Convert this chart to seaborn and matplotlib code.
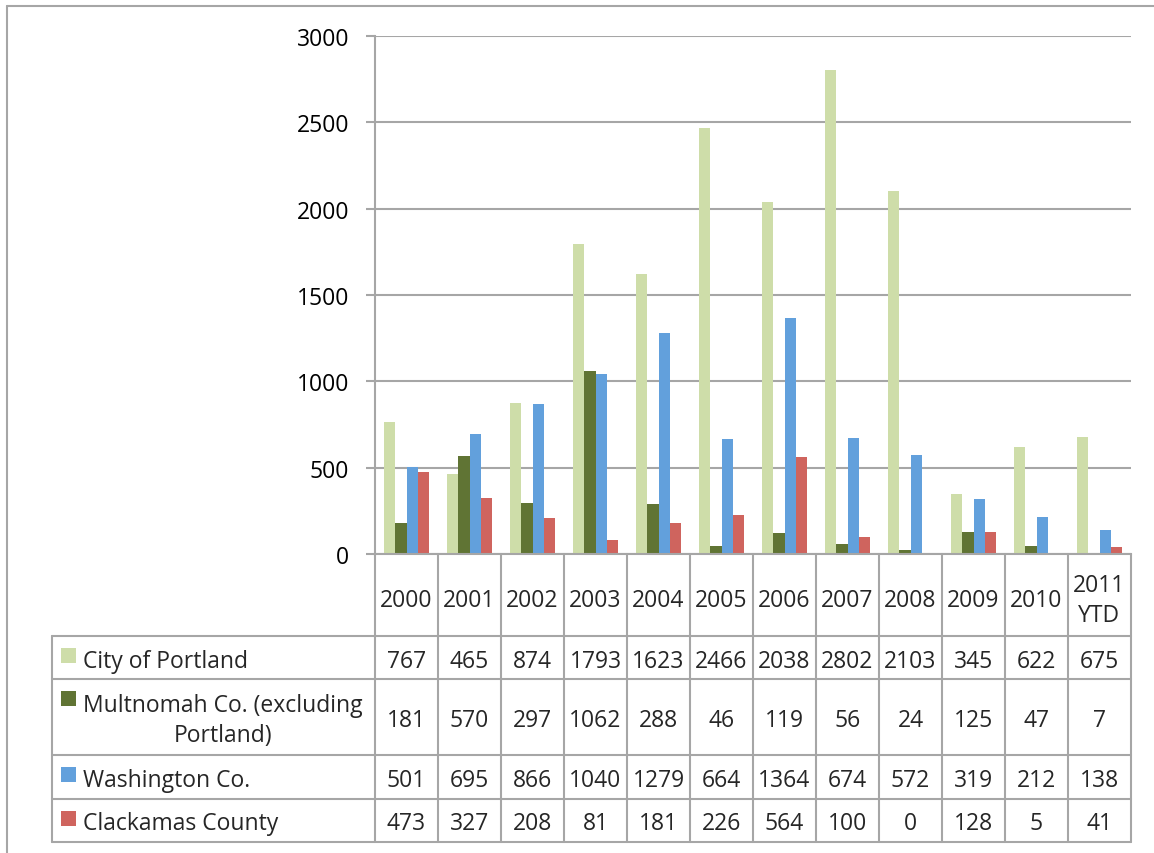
import matplotlib
matplotlib.use("Agg")
import matplotlib.pyplot as plt
import matplotlib.transforms as mtransforms
from matplotlib.lines import Line2D
from matplotlib.patches import Rectangle
import seaborn as sns
import pandas as pd

# ---- data ----
years = ["2000", "2001", "2002", "2003", "2004", "2005", "2006", "2007",
         "2008", "2009", "2010", "2011\nYTD"]
series = ["City of Portland", "Multnomah Co. (excluding\nPortland)",
          "Washington Co.", "Clackamas County"]
portland = [767, 465, 874, 1793, 1623, 2466, 2038, 2802, 2103, 345, 622, 675]
multnomah = [181, 570, 297, 1062, 288, 46, 119, 56, 24, 125, 47, 7]
washington = [501, 695, 866, 1040, 1279, 664, 1364, 674, 572, 319, 212, 138]
clackamas = [473, 327, 208, 81, 181, 226, 564, 100, 0, 128, 5, 41]
colors = ["#CEDDA9", "#607434", "#62A0DC", "#CF645E"]

values = [portland, multnomah, washington, clackamas]
df = pd.DataFrame([
    {"year": y, "series": s, "value": v}
    for s, vals in zip(series, values)
    for y, v in zip(years, vals)
])

sns.set_theme(style="white")
plt.rcParams["font.family"] = ["Open Sans", "DejaVu Sans"]
FS = 16.5
GRID = "#A6A6A6"

W, H = 1154, 854
fig = plt.figure(figsize=(W / 100, H / 100), dpi=100)


def fx(x):
    return x / W


def fy(y):
    return 1 - y / H


# plot area in pixel coordinates
L, R, T, B = 375, 1131, 37, 555
ax = fig.add_axes([fx(L), fy(B), fx(R - L), (B - T) / H])

sns.barplot(data=df, x="year", y="value", hue="series", order=years,
            hue_order=series, palette=colors, width=0.73, gap=0,
            saturation=1, legend=False, ax=ax, linewidth=0)

ax.set_ylim(0, 3000)
ax.set_yticks(range(0, 3001, 500))
ax.set_xlim(-0.5, len(years) - 0.5)
ax.set_xlabel("")
ax.set_ylabel("")
ax.set_xticks([])
ax.yaxis.grid(True, color=GRID, linewidth=1.5)
ax.set_axisbelow(True)
for side in ["top", "right"]:
    ax.spines[side].set_visible(False)
for side in ["left", "bottom"]:
    ax.spines[side].set_color(GRID)
    ax.spines[side].set_linewidth(1.5)
ax.tick_params(axis="y", length=6.5, width=1.5, color=GRID, pad=12,
               labelsize=FS, labelcolor="black", left=True)
for lab in ax.get_yticklabels():
    lab.set_fontfamily(["Open Sans", "DejaVu Sans"])

# ---- data table below the chart ----
row_edges = [637, 680, 756, 800, 843]
table_bottom = row_edges[-1]
label_left = 52


def hline(x0, x1, y):
    fig.add_artist(Line2D([fx(x0), fx(x1)], [fy(y), fy(y)],
                          color=GRID, linewidth=1.5, transform=fig.transFigure))


def vline(x, y0, y1):
    fig.add_artist(Line2D([fx(x), fx(x)], [fy(y0), fy(y1)],
                          color=GRID, linewidth=1.5, transform=fig.transFigure))


for y in row_edges:
    hline(label_left, R, y)
vline(label_left, row_edges[0], table_bottom)

# column separators follow the category scale of the axes
xdata_tr = mtransforms.blended_transform_factory(ax.transData, fig.transFigure)
for k in range(len(years) + 1):
    xb = k - 0.5
    fig.add_artist(Line2D([xb, xb], [fy(B), fy(table_bottom)], color=GRID,
                          linewidth=1.5, transform=xdata_tr))

# header row with category names
header_mid = (B + row_edges[0]) / 2 + 5
for i, yr in enumerate(years):
    fig.text(i, fy(header_mid), yr, transform=xdata_tr, ha="center",
             va="center", fontsize=FS, linespacing=1.3)

# value rows with legend keys
for r, (name, vals, col) in enumerate(zip(series, values, colors)):
    top, bot = row_edges[r], row_edges[r + 1]
    mid = (top + bot) / 2 + 3
    fig.add_artist(Rectangle((fx(61), fy(top + 27)), fx(15), 15 / H,
                             facecolor=col, edgecolor="none",
                             transform=fig.transFigure))
    fig.text(fx(83), fy(mid), name, ha="left", va="center", fontsize=FS,
             multialignment="center", linespacing=1.3)
    for i, v in enumerate(vals):
        fig.text(i, fy(mid), str(v), transform=xdata_tr, ha="center",
                 va="center", fontsize=FS)

# chart area frame
hline(7, W + 5, 7)
vline(7, 7, H + 5)

fig.savefig("out.png", dpi=100)
